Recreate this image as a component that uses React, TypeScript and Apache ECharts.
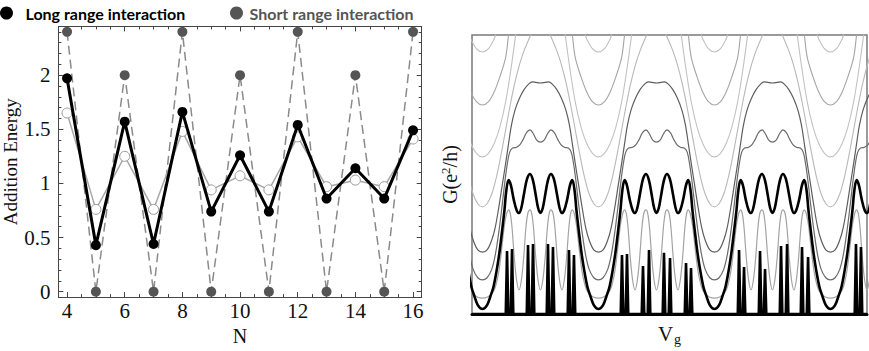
import React, { useEffect, useRef } from "react";
import * as echarts from "echarts";

// ---------------- Left panel data ----------------
const N_VALUES = [4, 5, 6, 7, 8, 9, 10, 11, 12, 13, 14, 15, 16];
const LONG_RANGE = [1.97, 0.43, 1.57, 0.44, 1.66, 0.74, 1.26, 0.74, 1.54, 0.86, 1.14, 0.86, 1.49];
const SHORT_RANGE = [2.4, 0, 2.0, 0, 2.4, 0, 2.0, 0, 2.4, 0, 2.0, 0, 2.4];
const OPEN_CIRCLES = [1.65, 0.76, 1.25, 0.76, 1.48, 0.94, 1.07, 0.94, 1.43, 0.97, 1.03, 0.97, 1.41];

const X_MAJOR = [4, 6, 8, 10, 12, 14, 16];
const X_MINOR = [4.5, 5, 5.5, 6.5, 7, 7.5, 8.5, 9, 9.5, 10.5, 11, 11.5, 12.5, 13, 13.5, 14.5, 15, 15.5];
const Y_MAJOR = [0, 0.5, 1, 1.5, 2];
const Y_MINOR = [0.1, 0.2, 0.3, 0.4, 0.6, 0.7, 0.8, 0.9, 1.1, 1.2, 1.3, 1.4, 1.6, 1.7, 1.8, 1.9, 2.1, 2.2, 2.3, 2.4];

// ---------------- Right panel data ----------------
// Half-period profiles [u, G], u = 0 at a valley, u = 0.5 at the centre of a peak cluster.
const THICK_CURVE = [
  [0, 0.18], [0.04, 0.32], [0.07, 0.65], [0.095, 0.97], [0.12, 1.5], [0.146, 2.19], [0.17, 3.0],
  [0.19, 3.73], [0.205, 4.4], [0.225, 4.8], [0.245, 4.62], [0.27, 4.1], [0.295, 3.72], [0.315, 3.62],
  [0.335, 3.8], [0.36, 4.35], [0.385, 4.85], [0.41, 5.02], [0.435, 4.8], [0.46, 4.25], [0.48, 3.8], [0.5, 3.62],
];
const GRAY_FOUR_PEAK = [
  [0, 0.57], [0.04, 0.6], [0.08, 0.72], [0.11, 0.95], [0.14, 1.5], [0.165, 2.3], [0.19, 3.2], [0.21, 3.62],
  [0.225, 3.73], [0.24, 3.6], [0.255, 3.1], [0.275, 2.0], [0.295, 1.2], [0.315, 0.86], [0.335, 1.2],
  [0.355, 2.0], [0.375, 3.1], [0.392, 3.62], [0.41, 3.73], [0.425, 3.6], [0.44, 3.1], [0.46, 2.0], [0.48, 1.2], [0.5, 0.86],
];
const TWO_BUMP = [
  [0, 1.22], [0.04, 1.3], [0.08, 1.6], [0.11, 2.1], [0.14, 2.9], [0.17, 3.9], [0.195, 4.8], [0.215, 5.4],
  [0.235, 5.8], [0.26, 5.95], [0.29, 5.97], [0.32, 6.05], [0.35, 6.25], [0.38, 6.5], [0.41, 6.6], [0.44, 6.45],
  [0.47, 6.22], [0.5, 6.16],
];
const PLATEAU = [
  [0, 2.22], [0.04, 2.3], [0.08, 2.65], [0.11, 3.1], [0.14, 3.8], [0.17, 4.6], [0.2, 5.4], [0.225, 6.1],
  [0.25, 6.77], [0.28, 7.3], [0.32, 7.74], [0.36, 8.05], [0.4, 8.25], [0.43, 8.32], [0.46, 8.3], [0.5, 8.28],
];
const ARCH = [
  [0, 3.84], [0.04, 3.95], [0.08, 4.3], [0.12, 4.9], [0.16, 5.7], [0.2, 6.6], [0.24, 7.5], [0.28, 8.3],
  [0.32, 8.95], [0.36, 9.45], [0.4, 9.85], [0.43, 10.1], [0.47, 10.3], [0.5, 10.35],
];
const HIGH_1 = [
  [0, 5.63], [0.05, 5.75], [0.1, 6.1], [0.15, 6.7], [0.2, 7.6], [0.25, 8.9], [0.27, 9.5], [0.3, 10.4],
  [0.35, 11.5], [0.4, 12.0], [0.5, 12.3],
];
const HIGH_2 = [
  [0, 7.49], [0.05, 7.6], [0.1, 7.95], [0.15, 8.5], [0.2, 9.2], [0.225, 10.0], [0.25, 10.8], [0.3, 12.0],
  [0.4, 12.8], [0.5, 13.0],
];
const HIGH_3 = [
  [0, 9.39], [0.05, 9.5], [0.1, 9.85], [0.12, 10.1], [0.15, 10.6], [0.2, 11.5], [0.3, 12.6], [0.5, 13.0],
];

// Low-temperature spike pairs: gate positions and heights
const SPIKE_POS = [
  0.302, 0.345, 0.483, 0.526, 0.655, 0.698, 0.836, 0.879,
  1.293, 1.336, 1.474, 1.526, 1.655, 1.707, 1.845, 1.888,
  2.302, 2.345, 2.483, 2.526, 2.664, 2.716, 2.845, 2.897,
  3.31, 3.353,
];
const SPIKE_HEIGHT = [
  2.26, 2.33, 2.47, 2.51, 2.51, 2.4, 2.29, 2.11,
  2.11, 2.15, 1.72, 2.29, 2.19, 2.01, 1.83, 1.65,
  2.29, 1.68, 2.26, 1.61, 2.44, 2.51, 2.4, 2.04,
  2.51, 2.4,
];

const VG_MAX = 3.405;
const VALLEY0 = 0.09;
const SPIKE_HALF_WIDTH = 0.011;

function periodic(half: number[][]): number[][] {
  const mirrored = half.slice(0, -1).reverse().map(([u, g]) => [1 - u, g]);
  const one = half.concat(mirrored);
  const out: number[][] = [];
  for (let k = -1; k <= 3; k++) {
    one.forEach(([u, g], i) => {
      if (i === one.length - 1 && k < 3) return;
      out.push([+(VALLEY0 + k + u).toFixed(4), g]);
    });
  }
  return out;
}

function spikes(): number[][] {
  const out: number[][] = [[0, 0]];
  SPIKE_POS.forEach((x, i) => {
    out.push([x - SPIKE_HALF_WIDTH, 0], [x, SPIKE_HEIGHT[i]], [x + SPIKE_HALF_WIDTH, 0]);
  });
  out.push([VG_MAX, 0]);
  return out;
}

const SERIF = "Liberation Serif";

export default function App() {
  const ref = useRef<HTMLDivElement>(null);
  useEffect(() => {
    if (!ref.current) return;
    const chart = echarts.init(ref.current, undefined, { renderer: "svg" });

    const leftGrid = { left: 58.4, top: 26.4, width: 363.3, height: 270.8 };
    const X_MIN = 3.7, X_MAX = 16.3, Y_MIN = -0.05, Y_MAX = 2.45;
    const frame = "#444";

    const xBase = (extra: any) => ({
      type: "value", gridIndex: 0, min: X_MIN, max: X_MAX,
      splitLine: { show: false },
      axisLine: { show: true, onZero: false, lineStyle: { color: frame, width: 1 } },
      ...extra,
    });
    const yBase = (extra: any) => ({
      type: "value", gridIndex: 0, min: Y_MIN, max: Y_MAX,
      splitLine: { show: false },
      axisLine: { show: true, onZero: false, lineStyle: { color: frame, width: 1 } },
      ...extra,
    });
    const noLabel = { show: false };

    const curveSeries = (name: string, half: number[][], color: string, width: number) => ({
      name, type: "line", xAxisIndex: 4, yAxisIndex: 4, data: periodic(half),
      smooth: 0.35, showSymbol: false, symbol: "none", clip: true,
      lineStyle: { color, width }, z: 3,
    });

    const legendText = { fontFamily: "Lato", fontWeight: "bold", fontSize: 16 };

    chart.setOption({
      animation: false,
      backgroundColor: "#fff",
      legend: [
        {
          left: 0, top: 5, padding: 0, itemWidth: 28, itemHeight: 13, icon: "circle",
          data: [{ name: "Long range interaction", textStyle: { color: "#000" } }],
          textStyle: legendText,
        },
        {
          left: 230, top: 5, padding: 0, itemWidth: 16, itemHeight: 13, icon: "circle",
          data: [{ name: "Short range interaction", textStyle: { color: "#555" } }],
          textStyle: legendText,
        },
      ],
      grid: [
        { ...leftGrid, show: false },
        { left: 472, top: 35, width: 395, height: 279, show: true, borderColor: "#7a7a7a", borderWidth: 1.5 },
      ],
      xAxis: [
        xBase({
          position: "bottom",
          axisTick: { show: true, inside: true, length: 5, customValues: X_MAJOR, lineStyle: { color: frame } },
          axisLabel: { show: true, customValues: X_MAJOR, margin: 3, fontFamily: SERIF, fontSize: 21, color: "#111" },
          name: "N", nameLocation: "middle", nameGap: 25,
          nameTextStyle: { fontFamily: SERIF, fontSize: 20, color: "#111" },
        }),
        xBase({
          position: "bottom",
          axisTick: { show: true, inside: true, length: 3, customValues: X_MINOR, lineStyle: { color: frame } },
          axisLabel: noLabel,
        }),
        xBase({
          position: "top",
          axisTick: { show: true, inside: true, length: 5, customValues: X_MAJOR, lineStyle: { color: frame } },
          axisLabel: noLabel,
        }),
        xBase({
          position: "top",
          axisTick: { show: true, inside: true, length: 3, customValues: X_MINOR, lineStyle: { color: frame } },
          axisLabel: noLabel,
        }),
        {
          type: "value", gridIndex: 1, min: 0, max: VG_MAX, position: "bottom",
          splitLine: { show: false }, axisTick: { show: false }, axisLabel: { show: false },
          axisLine: { show: true, onZero: false, lineStyle: { color: "#000", width: 3 } },
          name: "{v|V}{s|g}", nameLocation: "middle", nameGap: 8,
          nameTextStyle: {
            rich: {
              v: { fontFamily: SERIF, fontSize: 21, color: "#111" },
              s: { fontFamily: SERIF, fontSize: 14, color: "#111", padding: [10, 0, 0, 1] },
            },
          },
        },
      ],
      yAxis: [
        yBase({
          position: "left",
          axisTick: { show: true, inside: true, length: 5, customValues: Y_MAJOR, lineStyle: { color: frame } },
          axisLabel: { show: true, customValues: Y_MAJOR, margin: 8, fontFamily: SERIF, fontSize: 21, color: "#111" },
          name: "Addition Energy", nameLocation: "middle", nameGap: 33,
          nameTextStyle: { fontFamily: SERIF, fontSize: 19, color: "#111" },
        }),
        yBase({
          position: "left",
          axisTick: { show: true, inside: true, length: 3, customValues: Y_MINOR, lineStyle: { color: frame } },
          axisLabel: noLabel,
        }),
        yBase({
          position: "right",
          axisTick: { show: true, inside: true, length: 5, customValues: Y_MAJOR, lineStyle: { color: frame } },
          axisLabel: noLabel,
        }),
        yBase({
          position: "right",
          axisTick: { show: true, inside: true, length: 3, customValues: Y_MINOR, lineStyle: { color: frame } },
          axisLabel: noLabel,
        }),
        {
          type: "value", gridIndex: 1, min: 0, max: 10, position: "left",
          splitLine: { show: false }, axisTick: { show: false }, axisLabel: { show: false },
          axisLine: { show: false },
          name: "{a|G(e}{sup|2}{a|/h)}", nameLocation: "middle", nameGap: 11,
          nameTextStyle: {
            rich: {
              a: { fontFamily: SERIF, fontSize: 20, color: "#111" },
              sup: { fontFamily: SERIF, fontSize: 13, color: "#111", padding: [0, 0, 9, 0] },
            },
          },
        },
      ],
      series: [
        {
          name: "Short range interaction", type: "line", xAxisIndex: 0, yAxisIndex: 0,
          data: N_VALUES.map((n, i) => [n, SHORT_RANGE[i]]),
          symbol: "circle", symbolSize: 10,
          lineStyle: { color: "#8a8a8a", width: 1.5, type: [9, 5] },
          itemStyle: { color: "#555" }, z: 2,
        },
        {
          name: "Open", type: "line", xAxisIndex: 0, yAxisIndex: 0,
          data: N_VALUES.map((n, i) => [n, OPEN_CIRCLES[i]]),
          symbol: "circle", symbolSize: 10,
          lineStyle: { color: "#a8a8a8", width: 1.5 },
          itemStyle: { color: "#fff", borderColor: "#9a9a9a", borderWidth: 1 }, z: 3,
        },
        {
          name: "Long range interaction", type: "line", xAxisIndex: 0, yAxisIndex: 0,
          data: N_VALUES.map((n, i) => [n, LONG_RANGE[i]]),
          symbol: "circle", symbolSize: 10,
          lineStyle: { color: "#000", width: 3 },
          itemStyle: { color: "#000" }, z: 4,
        },
        curveSeries("c8", HIGH_3, "#bdbdbd", 1.1),
        curveSeries("c7", HIGH_2, "#a5a5a5", 1.1),
        curveSeries("c6", HIGH_1, "#c2c2c2", 1.1),
        curveSeries("c5", ARCH, "#b8b8b8", 1.1),
        curveSeries("c4", PLATEAU, "#5e5e5e", 1.2),
        curveSeries("c3", TWO_BUMP, "#6a6a6a", 1.2),
        curveSeries("c2", GRAY_FOUR_PEAK, "#a3a3a3", 1.2),
        curveSeries("c1", THICK_CURVE, "#000", 2.6),
        {
          name: "spikes", type: "line", xAxisIndex: 4, yAxisIndex: 4, data: spikes(),
          showSymbol: false, symbol: "none", clip: true,
          lineStyle: { color: "#000", width: 2.6, join: "miter" }, z: 5,
        },
      ],
    });
    return () => chart.dispose();
  }, []);
  return (
    <div
      ref={ref}
      style={{ position: "fixed", left: 0, top: 0, width: 869, height: 351, background: "#fff" }}
    />
  );
}
